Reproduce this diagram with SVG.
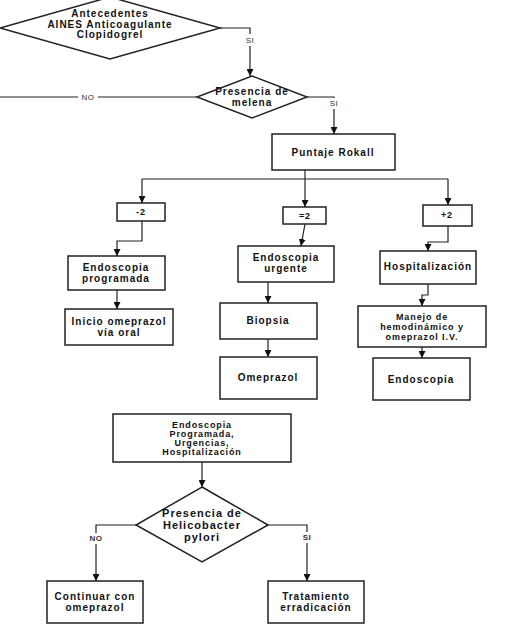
<svg xmlns="http://www.w3.org/2000/svg" width="532" height="640" viewBox="0 0 532 640">
<defs>
<marker id="ah" viewBox="0 0 10 10" refX="10" refY="5" markerWidth="7" markerHeight="7" markerUnits="userSpaceOnUse" orient="auto"><path d="M0,0 L10,5 L0,10 z" fill="#111"/></marker>
<style>
.b{fill:#fff;stroke:#222;stroke-width:1.5}
.t{font-family:"Liberation Sans",Arial,sans-serif;font-weight:bold;font-size:10px;letter-spacing:1px;fill:#111;text-anchor:middle}
.s{font-size:9px;letter-spacing:0.9px}
.l{font-family:"Liberation Sans",Arial,sans-serif;font-size:8px;letter-spacing:0.5px;fill:#333;text-anchor:middle}
.c{fill:none;stroke:#222;stroke-width:1.2}
.a{marker-end:url(#ah)}
</style>
</defs>
<rect width="532" height="640" fill="#fff"/>
<g id="connectors">
<path class="c a" d="M220,28 H250 V76"/>
<path class="c" d="M197,97 H0"/>
<path class="c a" d="M307,97 H334 V134"/>
<path class="c" d="M305,170 V179"/>
<path class="c" d="M142,179 H448"/>
<path class="c a" d="M142,179 V203"/>
<path class="c a" d="M305,179 V207"/>
<path class="c a" d="M448,179 V205"/>
<path class="c a" d="M142,221 V241 H117 V256"/>
<path class="c a" d="M117,290 V309"/>
<path class="c a" d="M305,224 L301,246"/>
<path class="c a" d="M268,282 V303"/>
<path class="c a" d="M268,339 V357"/>
<path class="c a" d="M448,226 V242 H428 V251"/>
<path class="c a" d="M428,284 V295 H422 V306"/>
<path class="c a" d="M422,347 V358"/>
<path class="c a" d="M202,462 V487"/>
<path class="c a" d="M136,525 H96 V581"/>
<path class="c a" d="M268,525 H307 V581"/>
<rect x="240" y="34" width="20" height="12" fill="#fff"/>
<text class="l" x="250" y="43">SI</text>
<rect x="78" y="92" width="20" height="10" fill="#fff"/>
<text class="l" x="88" y="100">NO</text>
<rect x="326" y="98" width="16" height="11" fill="#fff"/>
<text class="l" x="334" y="106">SI</text>
<rect x="86" y="533" width="20" height="11" fill="#fff"/>
<text class="l" x="96" y="541" font-weight="bold">NO</text>
<rect x="299" y="532" width="16" height="11" fill="#fff"/>
<text class="l" x="307" y="540" font-weight="bold">SI</text>
</g>
<g id="n1"><polygon class="b" points="110,-3 220,28 110,59 0,28"/>
<text class="t" x="110" y="17">Antecedentes</text><text class="t" x="110" y="28">AINES Anticoagulante</text><text class="t" x="110" y="38">Clopidogrel</text></g>
<g id="n2"><polygon class="b" points="252,76 307,97 252,118 197,97"/>
<text class="t" x="252" y="95">Presencia de</text><text class="t" x="252" y="106">melena</text></g>
<g id="n3"><rect class="b" x="272" y="134" width="123" height="36"/>
<text class="t" x="333" y="156">Puntaje Rokall</text></g>
<g id="n4"><rect class="b" x="117" y="203" width="48" height="18"/><text class="t s" x="141" y="215">-2</text></g>
<g id="n5"><rect class="b" x="283" y="207" width="43" height="17"/><text class="t s" x="305" y="219">=2</text></g>
<g id="n6"><rect class="b" x="423" y="205" width="49" height="21"/><text class="t s" x="447" y="218">+2</text></g>
<g id="n7"><rect class="b" x="68" y="256" width="97" height="34"/>
<text class="t" x="116" y="271">Endoscopia</text><text class="t" x="116" y="282">programada</text></g>
<g id="n8"><rect class="b" x="65" y="309" width="108" height="36"/>
<text class="t" x="119" y="325">Inicio omeprazol</text><text class="t" x="119" y="336">vía oral</text></g>
<g id="n9"><rect class="b" x="238" y="246" width="96" height="36"/>
<text class="t" x="286" y="261">Endoscopia</text><text class="t" x="286" y="272">urgente</text></g>
<g id="n10"><rect class="b" x="220" y="303" width="97" height="36"/><text class="t" x="268" y="324">Biopsia</text></g>
<g id="n11"><rect class="b" x="220" y="357" width="97" height="42"/><text class="t" x="268" y="381">Omeprazol</text></g>
<g id="n12"><rect class="b" x="380" y="251" width="96" height="33"/><text class="t" x="428" y="270">Hospitalización</text></g>
<g id="n13"><rect class="b" x="358" y="306" width="128" height="41"/>
<text class="t s" x="422" y="320">Manejo de</text><text class="t s" x="422" y="330">hemodinámico y</text><text class="t s" x="422" y="340">omeprazol I.V.</text></g>
<g id="n14"><rect class="b" x="373" y="358" width="97" height="42"/><text class="t" x="421" y="383">Endoscopia</text></g>
<g id="n15"><rect class="b" x="113" y="414" width="178" height="48"/>
<text class="t s" x="202" y="428">Endoscopia</text><text class="t s" x="202" y="437">Programada,</text><text class="t s" x="202" y="446">Urgencias,</text><text class="t s" x="202" y="455">Hospitalización</text></g>
<g id="n16"><polygon class="b" points="202,487 268,525 202,562 136,525"/>
<text class="t" x="202" y="517" style="font-size:11px">Presencia de</text><text class="t" x="202" y="529" style="font-size:11px">Helicobacter</text><text class="t" x="202" y="541" style="font-size:11px">pylori</text></g>
<g id="n17"><rect class="b" x="47" y="581" width="96" height="42"/>
<text class="t" x="95" y="600">Continuar con</text><text class="t" x="95" y="611">omeprazol</text></g>
<g id="n18"><rect class="b" x="268" y="581" width="96" height="42"/>
<text class="t" x="316" y="600">Tratamiento</text><text class="t" x="316" y="611">erradicación</text></g>
</svg>
